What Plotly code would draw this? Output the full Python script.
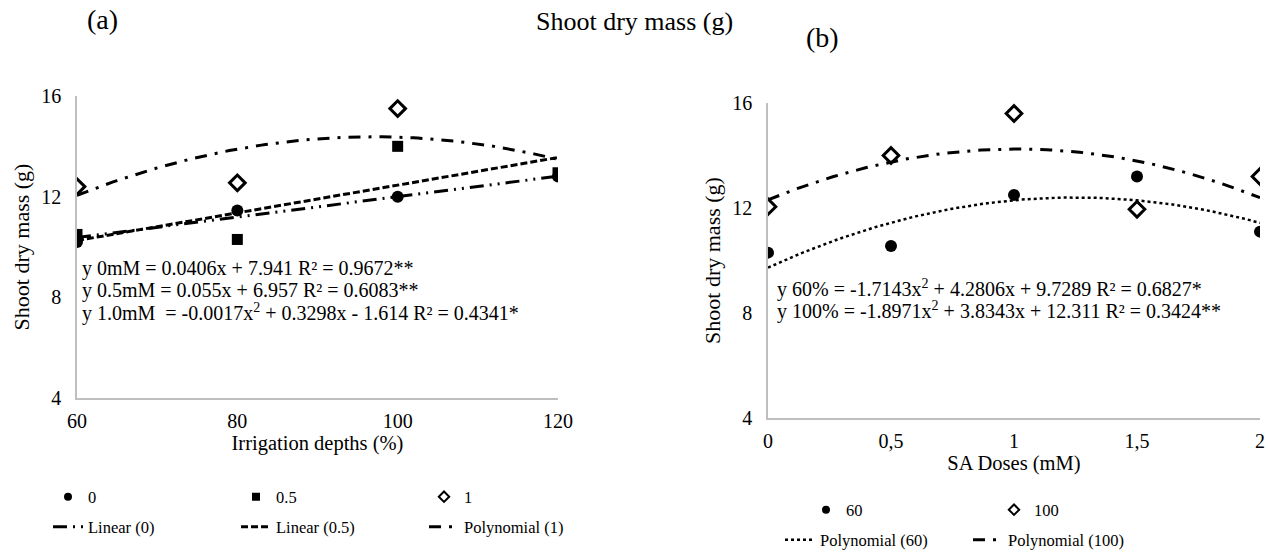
import numpy as np
import plotly.graph_objects as go

W, H = 1268, 560
FONT = "'Liberation Serif', 'Times New Roman', serif"

# ---------------- data: panel (a) ----------------
irrigation = [60, 80, 100, 120]
sa_0 = [10.2, 11.45, 12.0, 12.8]
sa_05 = [10.5, 10.3, 14.0, 12.95]
sa_1 = [12.4, 12.55, 15.5, None]
# fitted trendline coefficients (highest power first) as printed on chart
coef_lin0 = [0.0406, 7.941]
coef_lin05 = [0.055, 6.957]
coef_poly1 = [-0.0017, 0.3298, -1.614]

# ---------------- data: panel (b) ----------------
sa_doses = [0, 0.5, 1, 1.5, 2]
sa_tick_text = ["0", "0,5", "1", "1,5", "2"]
irr_60 = [10.3, 10.55, 12.5, 13.2, 11.1]
irr_100 = [12.05, 14.0, 15.6, 11.95, 13.2]
coef_poly60 = [-1.7143, 4.2806, 9.7289]
coef_poly100 = [-1.8971, 3.8343, 12.311]

y_ticks = [4, 8, 12, 16]

eq_a = ["y 0mM = 0.0406x + 7.941 R² = 0.9672**",
        "y 0.5mM = 0.055x + 6.957 R² = 0.6083**",
        "y 1.0mM  = -0.0017x<sup>2</sup> + 0.3298x - 1.614 R² = 0.4341*"]
eq_b = ["y 60% = -1.7143x<sup>2</sup> + 4.2806x + 9.7289 R² = 0.6827*",
        "y 100% = -1.8971x<sup>2</sup> + 3.8343x + 12.311 R² = 0.3424**"]

# pixel layout helpers
def px(x):
    return x / W

def py(y):
    return 1 - y / H

xa = np.linspace(60, 120, 121)
xb = np.linspace(0, 2, 121)

fig = go.Figure()

DIAMOND_LINE = dict(width=3, color="black")

def marker_series(x, y, name, symbol, size, xax, yax, leg, lsize):
    # data marks
    fig.add_trace(go.Scatter(x=x, y=y, mode="markers", name=name, showlegend=False,
                             marker=dict(symbol=symbol, size=size, color="black",
                                         line=DIAMOND_LINE if "open" in symbol else dict(width=0)),
                             xaxis=xax, yaxis=yax))
    # legend key (small symbol like the reference)
    fig.add_trace(go.Scatter(x=[None], y=[None], mode="markers", name=name,
                             marker=dict(symbol=symbol, size=lsize, color="black",
                                         line=dict(width=2, color="black") if "open" in symbol else dict(width=0)),
                             xaxis=xax, yaxis=yax, legend=leg))

marker_series(irrigation, sa_0, "0", "circle", 12, "x", "y", "legend", 8)
marker_series(irrigation, sa_05, "0.5", "square", 11, "x", "y", "legend", 8)
marker_series(irrigation, sa_1, "1", "diamond-open", 12, "x", "y", "legend", 8)

fig.add_trace(go.Scatter(x=xa, y=np.polyval(coef_lin0, xa), mode="lines", name="Linear (0)",
                         line=dict(color="black", width=3, dash="14px,6px,2px,6px,2px,6px"),
                         xaxis="x", yaxis="y", legend="legend2"))
fig.add_trace(go.Scatter(x=xa, y=np.polyval(coef_lin05, xa), mode="lines", name="Linear (0.5)",
                         line=dict(color="black", width=3, dash="7px,3px"),
                         xaxis="x", yaxis="y", legend="legend2"))
fig.add_trace(go.Scatter(x=xa, y=np.polyval(coef_poly1, xa), mode="lines", name="Polynomial (1)",
                         line=dict(color="black", width=3, dash="12px,8px,3px,8px"),
                         xaxis="x", yaxis="y", legend="legend2"))

marker_series(sa_doses, irr_60, "60", "circle", 12, "x2", "y2", "legend3", 8)
marker_series(sa_doses, irr_100, "100", "diamond-open", 12, "x2", "y2", "legend3", 8)

fig.add_trace(go.Scatter(x=xb, y=np.polyval(coef_poly60, xb), mode="lines", name="Polynomial (60)",
                         line=dict(color="black", width=2.5, dash="dot"),
                         xaxis="x2", yaxis="y2", legend="legend4"))
fig.add_trace(go.Scatter(x=xb, y=np.polyval(coef_poly100, xb), mode="lines", name="Polynomial (100)",
                         line=dict(color="black", width=3, dash="12px,8px,3px,8px"),
                         xaxis="x2", yaxis="y2", legend="legend4"))

axis_common = dict(showgrid=False, zeroline=False, showline=True, linecolor="#BFBFBF",
                   linewidth=1.5, ticks="outside", tickcolor="rgba(0,0,0,0)",
                   automargin=False,
                   tickfont=dict(family=FONT, size=20, color="black"))

fig.update_layout(
    width=W, height=H,
    margin=dict(l=0, r=0, t=0, b=0, autoexpand=False),
    paper_bgcolor="white", plot_bgcolor="white",
    font=dict(family=FONT, color="black", size=16),
    xaxis=dict(domain=[px(77), px(558)], range=[60, 120], tickvals=irrigation,
               ticklen=4, anchor="y",
               title=dict(text="Irrigation depths (%)", font=dict(family=FONT, size=20.5), standoff=4),
               **axis_common),
    yaxis=dict(domain=[py(398), py(96)], range=[4, 16], tickvals=y_ticks,
               ticklen=10, anchor="x",
               title=dict(text="Shoot dry mass (g)", font=dict(family=FONT, size=22), standoff=6),
               **axis_common),
    xaxis2=dict(domain=[px(768), px(1260)], range=[0, 2], tickvals=sa_doses,
                ticktext=sa_tick_text, ticklen=4, anchor="y2",
                title=dict(text="SA Doses (mM)", font=dict(family=FONT, size=20.5), standoff=4),
                **axis_common),
    yaxis2=dict(domain=[py(418), py(103)], range=[4, 16], tickvals=y_ticks,
                ticklen=10, anchor="x2",
                title=dict(text="Shoot dry mass (g)", font=dict(family=FONT, size=22), standoff=6),
                **axis_common),
    showlegend=True,
)

leg_common = dict(orientation="h", bgcolor="rgba(0,0,0,0)", xanchor="left", yanchor="middle",
                  font=dict(family=FONT, size=16.5, color="black"), entrywidthmode="pixels",
                  itemclick=False, itemdoubleclick=False, tracegroupgap=0)
fig.update_layout(
    legend=dict(x=px(48), y=py(497), entrywidth=143, **leg_common),
    legend2=dict(x=px(48), y=py(527), entrywidth=143, **leg_common),
    legend3=dict(x=px(806), y=py(510), entrywidth=143, **leg_common),
    legend4=dict(x=px(780), y=py(540), entrywidth=143, **leg_common),
)

annotations = [
    dict(text="Shoot dry mass (g)", x=0.5, y=py(22), xref="paper", yref="paper",
         showarrow=False, font=dict(family=FONT, size=26), xanchor="center", yanchor="middle"),
    dict(text="(a)", x=px(102), y=py(20), xref="paper", yref="paper",
         showarrow=False, font=dict(family=FONT, size=28), xanchor="center", yanchor="middle"),
    dict(text="(b)", x=px(822), y=py(38), xref="paper", yref="paper",
         showarrow=False, font=dict(family=FONT, size=28), xanchor="center", yanchor="middle"),
]
for i, t in enumerate(eq_a):
    annotations.append(dict(text=t, x=px(80), y=py(268 + 22 * i), xref="paper", yref="paper",
                            showarrow=False, font=dict(family=FONT, size=20),
                            xanchor="left", yanchor="middle"))
for i, t in enumerate(eq_b):
    annotations.append(dict(text=t, x=px(775), y=py(288 + 22 * i), xref="paper", yref="paper",
                            showarrow=False, font=dict(family=FONT, size=20),
                            xanchor="left", yanchor="middle"))
fig.update_layout(annotations=annotations)

fig.write_html("out.html")
